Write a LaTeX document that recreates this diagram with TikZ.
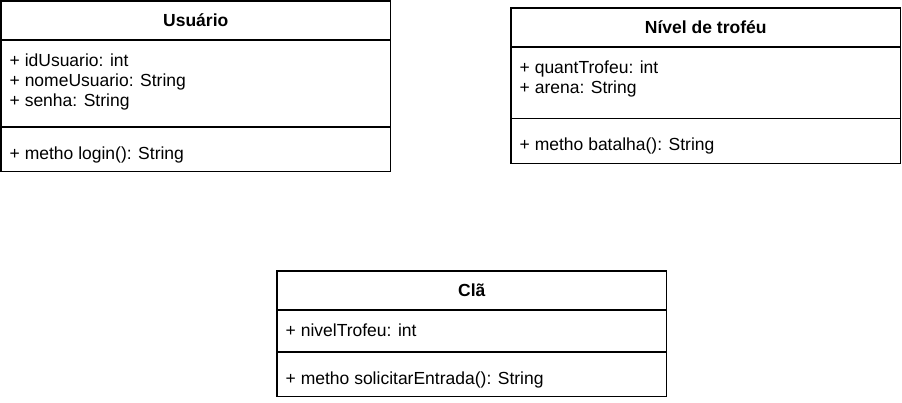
\documentclass[tikz,border=0pt]{standalone}
\usepackage{fontspec}
\setmainfont{Liberation Sans}
\usetikzlibrary{positioning}

\begin{document}
\begin{tikzpicture}[x=1pt,y=-1pt]
\tikzset{
  classhead/.style={draw,line width=1.2pt,anchor=north west,outer sep=0pt,inner sep=0pt,minimum width=389.5pt,font=\fontsize{17.5}{20}\selectfont\bfseries},
  compartment/.style={draw,line width=1.2pt,anchor=north west,outer sep=0pt,inner sep=0pt,minimum width=389.5pt},
  member/.style={anchor=base west,inner sep=0pt,font=\fontsize{17.5}{20}\selectfont}
}
\useasboundingbox (0,0) rectangle (902,402);
\node[classhead,minimum height=39pt] (n_usu) at (1,1) {Usuário};
\node[compartment,minimum height=87pt] (n_usu_attr) at (n_usu.south west) {};
\node[compartment,minimum height=44.5pt] (n_usu_meth) at (n_usu_attr.south west) {};
\node[member] (n_usu_a0) at ([xshift=8.5pt,yshift=-26.5pt]n_usu_attr.north west) {+ idUsuario: int};
\node[member] (n_usu_a1) at ([yshift=-20pt]n_usu_a0.base west) {+ nomeUsuario: String};
\node[member] (n_usu_a2) at ([yshift=-20pt]n_usu_a1.base west) {+ senha: String};
\node[member] (n_usu_m0) at ([xshift=8.5pt,yshift=-32pt]n_usu_meth.north west) {+ metho login(): String};
\node[classhead,minimum height=39pt] (n_niv) at (511,8) {Nível de troféu};
\node[compartment,minimum height=71.5pt] (n_niv_attr) at (n_niv.south west) {};
\node[compartment,minimum height=45pt] (n_niv_meth) at (n_niv_attr.south west) {};
\node[member] (n_niv_a0) at ([xshift=8.5pt,yshift=-26.5pt]n_niv_attr.north west) {+ quantTrofeu: int};
\node[member] (n_niv_a1) at ([yshift=-20pt]n_niv_a0.base west) {+ arena: String};
\node[member] (n_niv_m0) at ([xshift=8.5pt,yshift=-32pt]n_niv_meth.north west) {+ metho batalha(): String};
\node[classhead,minimum height=39pt] (n_cla) at (277,271) {Clã};
\node[compartment,minimum height=42pt] (n_cla_attr) at (n_cla.south west) {};
\node[compartment,minimum height=44.5pt] (n_cla_meth) at (n_cla_attr.south west) {};
\node[member] (n_cla_a0) at ([xshift=8.5pt,yshift=-26.5pt]n_cla_attr.north west) {+ nivelTrofeu: int};
\node[member] (n_cla_m0) at ([xshift=8.5pt,yshift=-32pt]n_cla_meth.north west) {+ metho solicitarEntrada(): String};
\end{tikzpicture}
\end{document}
